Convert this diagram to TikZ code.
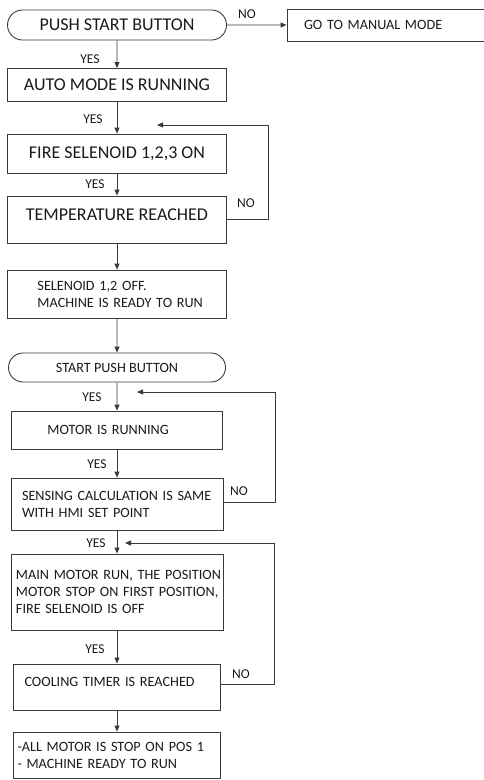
\documentclass[tikz,border=0pt]{standalone}
\usepackage{fontspec}
\setmainfont{Carlito}
\usetikzlibrary{arrows.meta,positioning,shapes.misc}
\definecolor{flowline}{HTML}{3A3A3A}
\definecolor{flowtext}{HTML}{1A1A1A}
\tikzset{
  >={Triangle[length=6pt,width=5pt]},
  % boxes
  term/.style={rounded rectangle,draw=flowline,line width=0.9pt,inner sep=0pt,
               text=flowtext},
  blk/.style={rectangle,draw=flowline,line width=0.9pt,inner sep=0pt,text=flowtext},
  lblk/.style={blk,align=left,inner xsep=1pt,text width=#1-2pt,minimum width=#1},
  lpad/.style={execute at begin node={\leftskip=#1\rightskip=-60pt plus 1fil
               \hyphenpenalty=10000\relax}},
  bigf/.style={font=\fontsize{18}{21}\selectfont},
  smallf/.style={font=\fontsize{14.2}{17}\selectfont},
  yn/.style={font=\fontsize{13.5}{16}\selectfont,inner sep=0pt,text=flowtext},
  % connectors
  flow/.style={->,draw=flowline,line width=0.9pt},
}
\begin{document}
\begin{tikzpicture}[x=1pt,y=-1pt]
\useasboundingbox (0,0) rectangle (484,780);
  % first part
  \node[term,bigf,minimum width=219,minimum height=30] (start) at (117,25) {PUSH START BUTTON};
  \node[lblk=197pt,smallf,minimum height=32,lpad=16pt] (manual) at (385.5,25) {GO TO MANUAL MODE};
  \node[blk,bigf,minimum width=219,minimum height=33] (auto) at (117,85) {AUTO MODE IS RUNNING};
  \node[blk,bigf,minimum width=219,minimum height=39] (fire) at (117,153.5) {FIRE SELENOID 1,2,3 ON};
  \node[blk,bigf,minimum width=219,minimum height=47,text depth=9pt] (temp) at (117,219.5) {TEMPERATURE REACHED};
  \node[lblk=219pt,smallf,minimum height=48,lpad=29pt] (soloff) at (117,294)
    {SELENOID 1,2 OFF.\\MACHINE IS READY TO RUN};
  % second part
  \node[term,smallf,minimum width=217,minimum height=29] (start2) at (117,367.5) {START PUSH BUTTON};
  \node[lblk=211pt,smallf,minimum height=38,lpad=35pt] (motor) at (117,430) {MOTOR IS RUNNING};
  \node[lblk=212pt,smallf,minimum height=52,lpad=10pt] (sense) at (117,504)
    {SENSING CALCULATION IS SAME\\WITH HMI SET POINT};
  \node[lblk=212pt,smallf,minimum height=76,lpad=4pt] (mainrun) at (117,592)
    {MAIN MOTOR RUN, THE POSITION\\MOTOR STOP ON FIRST POSITION,\\FIRE SELENOID IS OFF};
  \node[lblk=207pt,smallf,minimum height=46,text depth=10pt,lpad=10pt] (cool) at (117,687)
    {COOLING TIMER IS REACHED};
  \node[lblk=207pt,smallf,minimum height=46,lpad=3pt] (final) at (117,755)
    {-ALL MOTOR IS STOP ON POS 1\\- MACHINE READY TO RUN};
  % yes / no
  \node[yn] (no1) at (247,14) {NO};
  \node[yn] (yes1) at (90,59) {YES};
  \node[yn] (yes2) at (93,119) {YES};
  \node[yn] (yes3) at (95,184) {YES};
  \node[yn] (no2) at (246,203) {NO};
  \node[yn] (yes4) at (92,397) {YES};
  \node[yn] (yes5) at (97,464) {YES};
  \node[yn] (no3) at (239,491) {NO};
  \node[yn] (yes6) at (96,543) {YES};
  \node[yn] (yes7) at (95,649) {YES};
  \node[yn] (no4) at (241,674) {NO};
  % loop ends
  \coordinate (back1) at (157,125);
  \coordinate (back2) at (137,392);
  \coordinate (back3) at (125,543);
  \draw[flow] (start) -- (manual);
  \draw[flow] (start) -- (auto);
  \draw[flow] (auto) -- (fire);
  \draw[flow] (fire) -- (temp);
  \draw[flow] (temp) -- (soloff);
  \draw[flow] (soloff) -- (start2);
  \draw[flow] (start2) -- (motor);
  \draw[flow] (motor) -- (sense);
  \draw[flow] (sense) -- (mainrun);
  \draw[flow] (mainrun) -- (cool);
  \draw[flow] (cool) -- (final);
  \draw[flow] (temp.east) -- ++(41,0) |- (back1);
  \draw[flow] (sense.east) ++(0,-2) -- ++(52,0) |- (back2);
  \draw[flow] (cool.east) ++(0,-3) -- ++(53,0) |- (back3);
\end{tikzpicture}
\end{document}
